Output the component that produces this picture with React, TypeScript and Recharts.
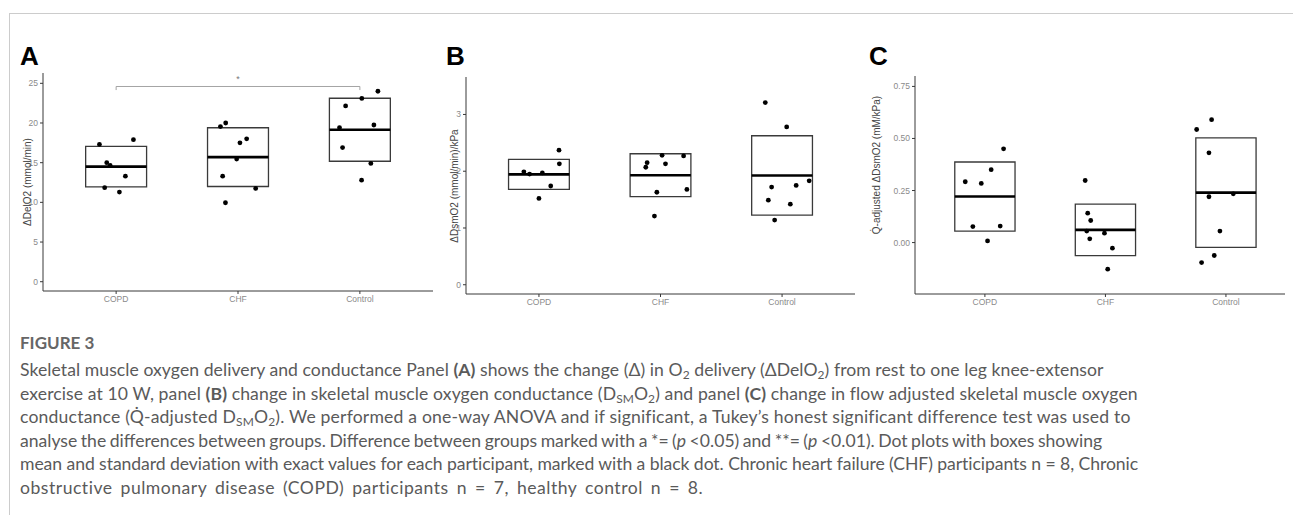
import React from "react";
import { ComposedChart, XAxis, YAxis, Scatter, ReferenceArea, ReferenceLine } from "recharts";

const CATEGORIES = ["COPD", "CHF", "Control"];

// Panel A – ΔDelO2 (mmol/min)
const delCopd = [17.3, 17.9, 15.0, 14.65, 13.3, 11.85, 11.3];
const delChf = [19.55, 20.0, 17.5, 18.0, 15.45, 13.3, 11.75, 9.95];
const delControl = [23.1, 24.0, 22.15, 19.4, 19.75, 16.9, 14.9, 12.8];
const delJitter = [
  [-0.137, 0.142, -0.077, -0.049, 0.076, -0.094, 0.027],
  [-0.144, -0.101, 0.016, 0.071, -0.011, -0.126, 0.145, -0.103],
  [0.016, 0.148, -0.117, -0.167, 0.115, -0.142, 0.09, 0.014],
];
const delMean = [14.5, 15.7, 19.15];
const delSd = [2.55, 3.7, 3.97];
const delTicks = [0, 5, 10, 15, 20, 25];
const delBracket = { from: 1, to: 3, y: 24.6, drop: 24.15, label: "*" };

// Panel B – ΔDsmO2 (mmol/min)/kPa
const dsmCopd = [1.99, 1.95, 1.97, 2.37, 2.13, 1.74, 1.52];
const dsmChf = [2.07, 2.15, 2.28, 2.13, 2.27, 1.63, 1.68, 1.21];
const dsmControl = [3.21, 2.78, 1.83, 1.75, 1.72, 1.49, 1.42, 1.14];
const dsmJitter = [
  [-0.124, -0.077, 0.028, 0.165, 0.168, 0.097, 0.0],
  [-0.121, -0.11, 0.013, 0.041, 0.19, -0.03, 0.217, -0.05],
  [-0.138, 0.038, 0.223, 0.116, -0.086, -0.113, 0.068, -0.061],
];
const dsmMean = [1.945, 1.93, 1.925];
const dsmSd = [0.265, 0.378, 0.7];
const dsmTicks = [0, 1, 2, 3];

// Panel C – Q-adjusted ΔDsmO2 (mM/kPa)
const qCopd = [0.45, 0.35, 0.292, 0.284, 0.077, 0.079, 0.008];
const qChf = [0.298, 0.141, 0.106, 0.055, 0.045, 0.018, -0.027, -0.128];
const qControl = [0.59, 0.543, 0.431, 0.22, 0.234, 0.055, -0.096, -0.062];
const qJitter = [
  [0.155, 0.052, -0.163, -0.03, -0.1, 0.127, 0.022],
  [-0.168, -0.147, -0.122, -0.155, -0.008, -0.13, 0.058, 0.019],
  [-0.119, -0.243, -0.141, -0.141, 0.061, -0.05, -0.202, -0.097],
];
const qMean = [0.221, 0.061, 0.24];
const qSd = [0.166, 0.124, 0.263];
const qTicks = [0, 0.25, 0.5, 0.75];

const AXIS = "#383838";
const TICK_TEXT = "#8a8a8a";
const FONT = "'Liberation Sans', Arial, sans-serif";

type PanelProps = {
  groups: number[][];
  jitter: number[][];
  means: number[];
  sds: number[];
  yDomain: [number, number];
  xDomain: [number, number];
  yTicks: number[];
  fmt?: (v: number) => string;
  rect: { left: number; right: number; top: number; bottom: number };
  bracket?: typeof delBracket;
};

const H = 320;
const PAD = 40;
const Y_W = 30;
const X_H = 20;

function Panel({ groups, jitter, means, sds, yDomain, xDomain, yTicks, fmt, rect, bracket }: PanelProps) {
  const points = groups.flatMap((vals, gi) => vals.map((v, k) => ({ x: gi + 1 + jitter[gi][k], y: v })));
  const width = rect.right - rect.left + PAD + 6;
  const tickStyle = { fill: TICK_TEXT, fontSize: 8.5, fontFamily: FONT };

  return (
    <div style={{ position: "absolute", left: rect.left - PAD, top: 0 }}>
      <ComposedChart
        width={width}
        height={H}
        margin={{ top: rect.top, left: PAD - Y_W, right: 6, bottom: H - rect.bottom - X_H }}
      >
        <XAxis
          type="number"
          dataKey="x"
          domain={xDomain}
          ticks={[1, 2, 3]}
          tickFormatter={(v: number) => CATEGORIES[v - 1]}
          allowDataOverflow
          height={X_H}
          tickSize={3}
          tickMargin={2}
          stroke={AXIS}
          tick={tickStyle}
          tickLine={{ stroke: AXIS }}
        />
        <YAxis
          type="number"
          dataKey="y"
          domain={yDomain}
          ticks={yTicks}
          tickFormatter={fmt}
          allowDataOverflow
          width={Y_W}
          tickSize={3}
          tickMargin={2}
          stroke={AXIS}
          tick={tickStyle}
          tickLine={{ stroke: AXIS }}
        />
        {means.map((m, i) => (
          <ReferenceArea
            key={`box-${i}`}
            x1={i + 1 - 0.25}
            x2={i + 1 + 0.25}
            y1={m - sds[i]}
            y2={m + sds[i]}
            fill="none"
            fillOpacity={0}
            stroke="#3a3a3a"
            strokeWidth={1.3}
            strokeOpacity={1}
          />
        ))}
        {means.map((m, i) => (
          <ReferenceLine
            key={`mean-${i}`}
            segment={[
              { x: i + 1 - 0.25, y: m },
              { x: i + 1 + 0.25, y: m },
            ]}
            stroke="#000"
            strokeWidth={2.6}
          />
        ))}
        {bracket && (
          <ReferenceLine
            segment={[
              { x: bracket.from, y: bracket.y },
              { x: bracket.to, y: bracket.y },
            ]}
            stroke="#9a9a9a"
            strokeWidth={0.9}
          />
        )}
        {bracket && (
          <ReferenceLine
            segment={[
              { x: bracket.from, y: bracket.drop },
              { x: bracket.from, y: bracket.y },
            ]}
            stroke="#9a9a9a"
            strokeWidth={0.9}
          />
        )}
        {bracket && (
          <ReferenceLine
            segment={[
              { x: bracket.to, y: bracket.drop },
              { x: bracket.to, y: bracket.y },
            ]}
            stroke="#9a9a9a"
            strokeWidth={0.9}
          />
        )}
        {bracket && (
          <Scatter
            data={[{ x: (bracket.from + bracket.to) / 2, y: bracket.y + 1.0 }]}
            isAnimationActive={false}
            shape={(p: any) => (
              <text x={p.cx} y={p.cy + 3} textAnchor="middle" fontSize={9} fill="#777" fontFamily={FONT}>
                {bracket.label}
              </text>
            )}
          />
        )}
        <Scatter
          data={points}
          isAnimationActive={false}
          shape={(p: any) => <circle cx={p.cx} cy={p.cy} r={2.4} fill="#000" />}
        />
      </ComposedChart>
    </div>
  );
}

const sub: React.CSSProperties = { fontSize: "0.68em", verticalAlign: "-0.28em", lineHeight: 0 };

function AxisTitle({ x, y, text }: { x: number; y: number; text: string }) {
  return (
    <div
      style={{
        position: "absolute",
        left: x,
        top: y,
        transform: "translate(-50%, -50%) rotate(-90deg)",
        whiteSpace: "nowrap",
        fontFamily: FONT,
        fontSize: 10,
        color: "#444",
        lineHeight: 1,
      }}
    >
      {text}
    </div>
  );
}

function Letter({ x, text }: { x: number; text: string }) {
  return (
    <div
      style={{
        position: "absolute",
        left: x,
        top: 43,
        fontFamily: FONT,
        fontWeight: 700,
        fontSize: 26,
        lineHeight: 1,
        color: "#000",
      }}
    >
      {text}
    </div>
  );
}

const CAPTION_FONT = "Lato, 'Open Sans', sans-serif";

function CaptionLine({
  top,
  children,
  ls = 0,
  ws = 0,
}: {
  top: number;
  children: React.ReactNode;
  ls?: number;
  ws?: number;
}) {
  return (
    <div
      style={{
        position: "absolute",
        left: 20,
        top,
        whiteSpace: "nowrap",
        fontFamily: CAPTION_FONT,
        fontSize: 17.6,
        lineHeight: "20px",
        color: "#5a5a5a",
        letterSpacing: ls,
        wordSpacing: ws,
      }}
    >
      {children}
    </div>
  );
}

export default function App() {
  const lineTops = [360, 383.5, 407, 430.5, 454, 477.5];
  return (
    <div style={{ position: "absolute", left: 0, top: 0, width: 1293, height: 515, background: "#fff", overflow: "hidden" }}>
      <div
        style={{
          position: "absolute",
          left: 9,
          top: 13,
          width: 1290,
          height: 505,
          borderTop: "1px solid #cccccc",
          borderLeft: "1px solid #cccccc",
        }}
      />
      <Panel
        groups={[delCopd, delChf, delControl]}
        jitter={delJitter}
        means={delMean}
        sds={delSd}
        yDomain={[-1.17, 26.3]}
        xDomain={[0.4, 3.6]}
        yTicks={delTicks}
        rect={{ left: 43, right: 433, top: 73, bottom: 291 }}
        bracket={delBracket}
      />
      <Panel
        groups={[dsmCopd, dsmChf, dsmControl]}
        jitter={dsmJitter}
        means={dsmMean}
        sds={dsmSd}
        yDomain={[-0.163, 3.66]}
        xDomain={[0.4, 3.6]}
        yTicks={dsmTicks}
        rect={{ left: 466, right: 855, top: 77, bottom: 294 }}
      />
      <Panel
        groups={[qCopd, qChf, qControl]}
        jitter={qJitter}
        means={qMean}
        sds={qSd}
        yDomain={[-0.247, 0.8]}
        xDomain={[0.42, 3.49]}
        yTicks={qTicks}
        fmt={(v: number) => v.toFixed(2)}
        rect={{ left: 915, right: 1285, top: 76, bottom: 294 }}
      />
      <Letter x={20} text="A" />
      <Letter x={446} text="B" />
      <Letter x={869} text="C" />
      <AxisTitle x={28} y={182} text="ΔDelO2 (mmol/min)" />
      <AxisTitle x={455} y={186} text="ΔDsmO2 (mmol/min)/kPa" />
      <AxisTitle x={877} y={165} text="Q̇-adjusted ΔDsmO2 (mM/kPa)" />

      <div
        style={{
          position: "absolute",
          left: 20,
          top: 333,
          fontFamily: CAPTION_FONT,
          fontWeight: 700,
          fontSize: 17,
          lineHeight: "20px",
          color: "#666",
        }}
      >
        FIGURE 3
      </div>
      <CaptionLine top={lineTops[0]} ls={0.06}>
        Skeletal muscle oxygen delivery and conductance Panel <b>(A)</b> shows the change (Δ) in O<span style={sub}>2</span> delivery (ΔDelO
        <span style={sub}>2</span>) from rest to one leg knee-extensor
      </CaptionLine>
      <CaptionLine top={lineTops[1]} ls={0.1}>
        exercise at 10 W, panel <b>(B)</b> change in skeletal muscle oxygen conductance (D<span style={sub}>SM</span>O
        <span style={sub}>2</span>) and panel <b>(C)</b> change in flow adjusted skeletal muscle oxygen
      </CaptionLine>
      <CaptionLine top={lineTops[2]} ls={0.18}>
        conductance (Q̇-adjusted D<span style={sub}>SM</span>O<span style={sub}>2</span>). We performed a one-way ANOVA and if
        significant, a Tukey’s honest significant difference test was used to
      </CaptionLine>
      <CaptionLine top={lineTops[3]} ls={0} ws={-1}>
        analyse the differences between groups. Difference between groups marked with a *= (<i>p</i> &lt;0.05) and **= (<i>p</i>{" "}
        &lt;0.01). Dot plots with boxes showing
      </CaptionLine>
      <CaptionLine top={lineTops[4]} ls={-0.07}>
        mean and standard deviation with exact values for each participant, marked with a black dot. Chronic heart failure (CHF)
        participants n = 8, Chronic
      </CaptionLine>
      <CaptionLine top={lineTops[5]} ls={0.5} ws={3}>
        obstructive pulmonary disease (COPD) participants n = 7, healthy control n = 8.
      </CaptionLine>
    </div>
  );
}
